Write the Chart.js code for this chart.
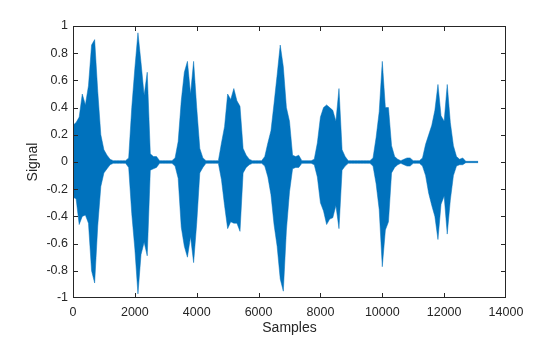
<!DOCTYPE html>
<html>
<head>
<meta charset="utf-8">
<script src="https://cdn.jsdelivr.net/npm/chart.js@4/dist/chart.umd.min.js"></script>
<style>
  html, body { margin: 0; padding: 0; background: #ffffff; }
  #wrap { width: 560px; height: 337px; }
</style>
</head>
<body>
<div id="wrap"><canvas id="c" width="560" height="337"></canvas></div>
<script>
// Speech recording: peak envelope of the waveform, one high/low pair per block of samples
const blockSize = 100;
const envHigh = [
  .27, .29, .33, .50, .42, .56, .86, .90, .52, .20,
  .09, .05, .02, .01, .01, .01, .01, .01, .03, .40,
  .69, .95, .73, .49, .66, .06, .04, .04, .01, .01,
  .01, .01, .01, .03, .15, .45, .66, .74, .50, .74,
  .40, .10, .03, .01, .01, .01, .01, .01, .14, .26,
  .50, .46, .54, .45, .41, .10, .05, .02, .01, .01,
  .01, .01, .04, .14, .23, .43, .64, .86, .70, .40,
  .30, .05, .04, .05, .01, .01, .01, .01, .02, .14,
  .33, .40, .42, .40, .38, .30, .54, .09, .04, .01,
  .01, .01, .01, .01, .01, .01, .01, .03, .18, .37,
  .74, .40, .40, .12, .04, .02, .01, .02, .03, .03,
  .01, .01, .01, .03, .13, .20, .27, .38, .57, .34,
  .30, .57, .29, .12, .04, .02, .03, .005, .005, .005,
  .005, .005
];
const envLow = [
  -.26, -.27, -.46, -.40, -.39, -.45, -.80, -.89, -.47, -.18,
  -.08, -.05, -.02, -.01, -.01, -.01, -.01, -.01, -.04, -.38,
  -.64, -.97, -.68, -.59, -.69, -.06, -.05, -.04, -.01, -.01,
  -.01, -.01, -.01, -.03, -.12, -.48, -.62, -.70, -.55, -.74,
  -.45, -.08, -.04, -.01, -.01, -.01, -.01, -.01, -.13, -.32,
  -.49, -.44, -.45, -.45, -.51, -.08, -.04, -.02, -.01, -.01,
  -.01, -.01, -.03, -.11, -.24, -.46, -.62, -.86, -.95, -.50,
  -.22, -.05, -.04, -.04, -.01, -.01, -.01, -.01, -.02, -.11,
  -.30, -.36, -.46, -.42, -.41, -.32, -.49, -.06, -.03, -.01,
  -.01, -.01, -.01, -.01, -.01, -.01, -.01, -.03, -.16, -.35,
  -.77, -.50, -.44, -.08, -.04, -.02, -.01, -.02, -.03, -.03,
  -.01, -.01, -.01, -.03, -.10, -.23, -.32, -.40, -.57, -.31,
  -.25, -.53, -.28, -.10, -.03, -.02, -.02, -.005, -.005, -.005,
  -.005, -.005
];

// Axis ticks
const xTicks = [0, 2000, 4000, 6000, 8000, 10000, 12000, 14000];
const yTicks = [-1, -0.8, -0.6, -0.4, -0.2, 0, 0.2, 0.4, 0.6, 0.8, 1];

// Upper and lower peak traces; the waveform fills the band between them
const upper = envHigh.map((v, i) => ({ x: i * blockSize, y: v }));
const lower = envLow.map((v, i) => ({ x: i * blockSize, y: v }));

const ink = '#262626';
const wave = '#0072BD';
const tickFont = { family: '"Liberation Sans", Arial, Helvetica, sans-serif', size: 12.5 };
const labelFont = { family: '"Liberation Sans", Arial, Helvetica, sans-serif', size: 14 };

// Box around the axes with inward tick marks on all four sides
const axesBox = {
  id: 'axesBox',
  afterDraw(chart) {
    const { ctx, chartArea: a, scales } = chart;
    const len = 4.5;
    ctx.save();
    ctx.strokeStyle = ink;
    ctx.lineWidth = 1;
    const L = Math.round(a.left) + 0.5, R = Math.round(a.right) - 0.5;
    const T = Math.round(a.top) + 0.5, B = Math.round(a.bottom) - 0.5;
    const clampX = p => Math.min(R, Math.max(L, p));
    const clampY = p => Math.min(B, Math.max(T, p));
    ctx.strokeRect(L, T, R - L, B - T);
    ctx.beginPath();
    scales.x.ticks.forEach(t => {
      const px = clampX(Math.round(scales.x.getPixelForValue(t.value)) + 0.5);
      ctx.moveTo(px, B); ctx.lineTo(px, B - len);
      ctx.moveTo(px, T); ctx.lineTo(px, T + len);
    });
    scales.y.ticks.forEach(t => {
      const py = clampY(Math.round(scales.y.getPixelForValue(t.value)) + 0.5);
      ctx.moveTo(L, py); ctx.lineTo(L + len, py);
      ctx.moveTo(R, py); ctx.lineTo(R - len, py);
    });
    ctx.stroke();
    ctx.restore();
  }
};

new Chart(document.getElementById('c'), {
  type: 'line',
  data: {
    datasets: [{
      data: upper,
      borderColor: wave,
      backgroundColor: wave,
      borderWidth: 0.5,
      pointRadius: 0,
      tension: 0,
      fill: '+1'
    }, {
      data: lower,
      borderColor: wave,
      backgroundColor: wave,
      borderWidth: 0.5,
      pointRadius: 0,
      tension: 0,
      fill: false
    }]
  },
  options: {
    responsive: false,
    animation: false,
    parsing: false,
    normalized: true,
    layout: { padding: { top: 26, right: 54, bottom: 0, left: 0 } },
    plugins: { legend: { display: false }, tooltip: { enabled: false } },
    scales: {
      x: {
        type: 'linear',
        min: 0, max: 14000,
        grid: { display: false, drawTicks: false },
        border: { display: false },
        afterBuildTicks: s => { s.ticks = xTicks.map(v => ({ value: v })); },
        afterFit: s => { s.height = 39; },
        ticks: {
          color: ink, font: tickFont, padding: 7, maxRotation: 0, autoSkip: false,
          callback: v => String(v)
        },
        title: { display: true, text: 'Samples', color: ink, font: labelFont, padding: { top: 0, bottom: 0 } }
      },
      y: {
        type: 'linear',
        min: -1, max: 1,
        grid: { display: false, drawTicks: false },
        border: { display: false },
        afterBuildTicks: s => { s.ticks = yTicks.map(v => ({ value: v })); },
        afterFit: s => { s.width = 73; },
        ticks: {
          color: ink, font: tickFont, padding: 5, autoSkip: false,
          callback: v => String(Math.round(v * 10) / 10)
        },
        title: { display: true, text: 'Signal', color: ink, font: labelFont, padding: { top: 25, bottom: 0 } }
      }
    }
  },
  plugins: [axesBox]
});
</script>
</body>
</html>
